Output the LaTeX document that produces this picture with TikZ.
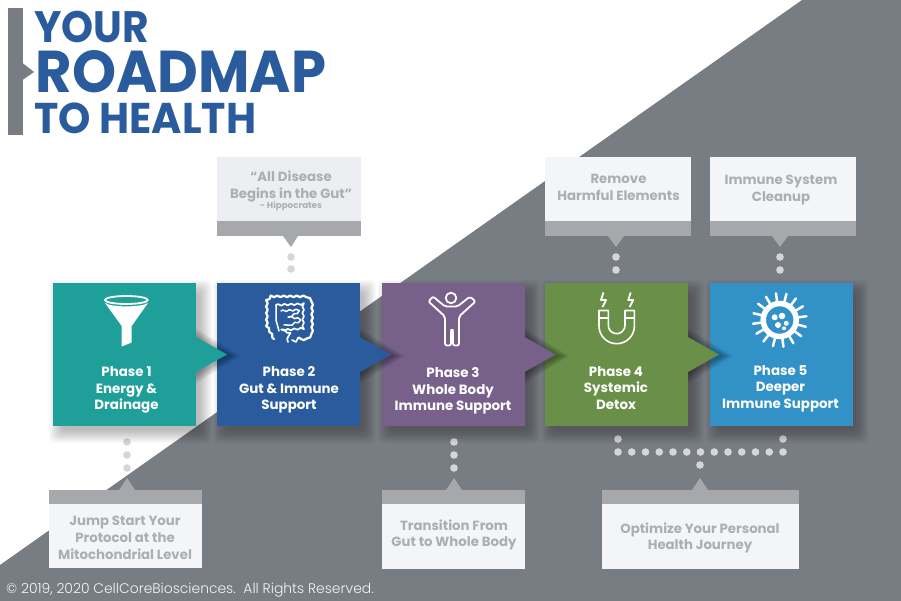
\documentclass[tikz,border=0pt]{standalone}
\usepackage{fontspec}
\setmainfont{Poppins}
\newfontfamily\lightfont{Poppins Light}
\usetikzlibrary{arrows,decorations.pathmorphing}
\definecolor{ttgray}{rgb}{0.471,0.486,0.514}
\definecolor{ttband}{rgb}{0.655,0.659,0.671}
\definecolor{ttlight}{rgb}{0.957,0.961,0.973}
\definecolor{tttext}{rgb}{0.675,0.682,0.698}
\definecolor{ttblue}{rgb}{0.165,0.361,0.616}
\definecolor{ttone}{rgb}{0.118,0.624,0.604}
\definecolor{ttthree}{rgb}{0.467,0.380,0.545}
\definecolor{ttfour}{rgb}{0.416,0.561,0.286}
\definecolor{ttfive}{rgb}{0.196,0.569,0.776}
\definecolor{ttdot}{rgb}{0.835,0.839,0.847}
\tikzset{
  phasetext/.style={align=center,text=white,font=\fontsize{13.4}{16.6}\selectfont\bfseries},
  notetext/.style={align=center,text=tttext,font=\fontsize{13.3}{16.8}\selectfont\bfseries},
  titletext/.style={anchor=base west,inner sep=0pt,text=ttblue},
  icon/.style={draw=white,line width=1.8pt,line cap=round,line join=round},
  wavy/.style={icon,decorate,decoration={snake,amplitude=0.8pt,segment length=6.5pt}},
  dotmark/.style={fill=ttdot,draw=none}
}
% box with soft shadow
\newcommand{\phasebox}[2]{
  \foreach \s in {10,9,...,-3}
    \fill[black,fill opacity=0.021,rounded corners=5pt] (#1+6-\s,290-\s) rectangle (#1+149+\s,433+\s);
  \foreach \s in {8,7,...,-2}
    \fill[black,fill opacity=0.03] (#1+143,336-\s) -- (#1+180+\s,356) -- (#1+143,376+\s) -- cycle;
  \fill[#2] (#1,283) rectangle (#1+143,426);
  \fill[#2] (#1+143,337) -- (#1+174,354.5) -- (#1+143,372) -- cycle;
}
\begin{document}
\begin{tikzpicture}[line cap=round,line join=round,>=triangle 45,x=1pt,y=-1pt]
\useasboundingbox (0,0) rectangle (901,601);
\fill[white] (0,0) rectangle (901,601);
\fill[ttgray] (802,0) -- (901,0) -- (901,601) -- (0,601) -- (0,565) -- cycle;
% title
\fill[ttgray] (8,8) rectangle (22.5,135);
\fill[ttgray] (22.5,63) -- (34,72) -- (22.5,80) -- cycle;
\node[titletext,font=\fontsize{44}{44}\selectfont\bfseries] (ttyour) at (34,43) {\scalebox{0.927}[1]{YOUR}};
\node[titletext,font=\fontsize{59}{59}\selectfont\bfseries] (ttroad) at (35.5,93) {\scalebox{0.95}[1]{ROADMAP}};
\node[titletext,font=\fontsize{43}{43}\selectfont\bfseries] (tthealth) at (34,134) {\scalebox{0.957}[1]{TO HEALTH}};
% top notes
\fill[ttlight!97!black] (217,157) rectangle (361,221);
\fill[ttband] (217,221) rectangle (361,236);
\fill[ttband] (283,236) -- (291,247) -- (298,236) -- cycle;
\fill[ttlight] (545,157) rectangle (691,221);
\fill[ttband] (545,221) rectangle (691,236);
\fill[ttband] (608,236) -- (616,247) -- (624,236) -- cycle;
\fill[ttlight] (710,157) rectangle (856,221);
\fill[ttband] (710,221) rectangle (856,236);
\fill[ttband] (772,236) -- (780,247) -- (788,236) -- cycle;
\node[notetext] (nt2) at (291,186.5) {“All Disease\\Begins in the Gut”};
\node[text=tttext,font=\fontsize{8.7}{8.7}\selectfont\bfseries] (nt2b) at (291,206) {- Hippocrates};
\node[notetext] (nt4) at (618.5,187) {Remove\\Harmful Elements};
\node[notetext] (nt5) at (781,190) {Immune System\\Cleanup};
% bottom notes
\fill[ttlight] (49,504) rectangle (202,568);
\fill[ttband] (49,490) rectangle (202,504);
\fill[ttband] (119,490) -- (127,478) -- (135,490) -- cycle;
\fill[ttlight] (382,504) rectangle (525,569);
\fill[ttband] (382,490) rectangle (525,504);
\fill[ttband] (446,490) -- (454,478) -- (462,490) -- cycle;
\fill[ttlight] (602,504) rectangle (799,569);
\fill[ttband] (602,490) rectangle (799,504);
\fill[ttband] (692,490) -- (700,478) -- (708,490) -- cycle;
\node[notetext] (nb1) at (125,538) {Jump Start Your\\Protocol at the\\Mitochondrial Level};
\node[notetext] (nb3) at (454,535) {Transition From\\Gut to Whole Body};
\node[notetext] (nb4) at (700,538) {Optimize Your Personal\\Health Journey};
% dots
\foreach \a/\b in {291/257,291/269,616/257,616/270,780/257,780/270,127/442,127/455,127/468,454/442,454/455,454/468,618/439,783/439,700/465}
  \fill[dotmark] (\a,\b) circle (3.8);
\foreach \n in {0,...,12}
  \fill[dotmark] (618+\n*13.75,452) circle (3.8);
% phases, last one first so each arrow lies on the next box
\foreach \s in {10,9,...,-3}
  \fill[black,fill opacity=0.021,rounded corners=5pt] (709.5+6-\s,290-\s) rectangle (709.5+149+\s,433+\s);
\fill[ttfive] (709.5,283) rectangle (852.5,426);
\phasebox{545}{ttfour}
\phasebox{381.5}{ttthree}
\phasebox{217}{ttblue}
\phasebox{53}{ttone}
\node[phasetext] (ph1) at (126.5,390) {Phase 1\\Energy \&\\Drainage};
\node[phasetext] (ph2) at (289,390) {Phase 2\\Gut \& Immune\\Support};
\node[phasetext] (ph3) at (453,391) {Phase 3\\Whole Body\\Immune Support};
\node[phasetext] (ph4) at (616,388) {Phase 4\\Systemic\\Detox};
\node[phasetext] (ph5) at (780.5,388.5) {Phase 5\\Deeper\\Immune Support};
% funnel
\draw[icon] (126.3,300) ellipse (21.5pt and 4pt);
\fill[white] (105,303) .. controls (112,307.5) and (141,307.5) .. (148,303) -- (131.7,326) -- (131.7,342.5) -- (121.7,346.5) -- (121.7,326) -- cycle;
% gut
\draw[wavy,line width=2.2pt] (274,339) -- (267.5,327) -- (267.5,300) -- (271,296.5) -- (308,296.5) -- (312,300) -- (312,334) -- (308,338) -- (298,338);
\draw[icon,line width=1.6pt] (298,338) -- (296,342) -- (292,340);
\draw[wavy,line width=1.7pt] (276,305) -- (303,304) -- (303,329) -- (279,331) -- (286,335) -- (288,342);
\draw[wavy,line width=1.5pt] (281,311) -- (296,310) -- (284,317) -- (297,320) -- (284,325);
\draw[icon,line width=1.5pt] (276,305) -- (276,320) -- (279,331);
% person
\draw[icon] (451,298) circle (5.3pt);
\draw[icon,rounded corners=2pt] (433,296.5) -- (445,306.5) -- (457.5,306.5) -- (470,296.5) -- (475.5,301.5) -- (459,316.5) -- (459,345.5) -- (453,345.5) -- (453,330) -- (451,330) -- (451,345.5) -- (445,345.5) -- (445,316.5) -- (428.5,301.5) -- cycle;
% magnet
\draw[icon,line width=1.6pt] (599,310.5) -- (608.3,310.5) -- (608.3,325.4) .. controls (608.3,330) and (612,333.7) .. (616.7,333.7) .. controls (621.3,333.7) and (625,330) .. (625,325.4) -- (625,310.5) -- (634.4,310.5) -- (634.4,326) .. controls (634.4,335.8) and (626.5,343.7) .. (616.7,343.7) .. controls (606.9,343.7) and (599,335.8) .. (599,326) -- cycle;
\draw[icon,line width=1.6pt] (599,318) -- (608.3,318) (625,318) -- (634.4,318);
\draw[icon,line cap=butt] (603.5,292.5) -- (601,300) -- (606,300) -- (602.5,307);
\draw[icon,line cap=butt] (630.7,292.5) -- (628.2,300) -- (633.2,300) -- (629.7,307);
% virus
\foreach \n in {0,...,15}
  \draw[white,line width=2.5pt] (779.7,320) ++(\n*22.5+8:17pt) -- ++(\n*22.5+8:10pt);
\draw[white,line width=5.5pt] (779.7,320) circle (16.5pt);
\foreach \a/\b/\r in {774.7/317.3/3,782/316/3.3,778/325/3,786.3/323.3/2.5,784/328.3/2}
  \fill[white] (\a,\b) circle (\r pt);
% footer
\node[anchor=base west,inner sep=0pt,text=ttlight,font=\lightfont\fontsize{13.9}{14}\selectfont] (ftr) at (6,593.5) {© 2019, 2020 CellCoreBiosciences.\ \ All Rights Reserved.};
\end{tikzpicture}
\end{document}
